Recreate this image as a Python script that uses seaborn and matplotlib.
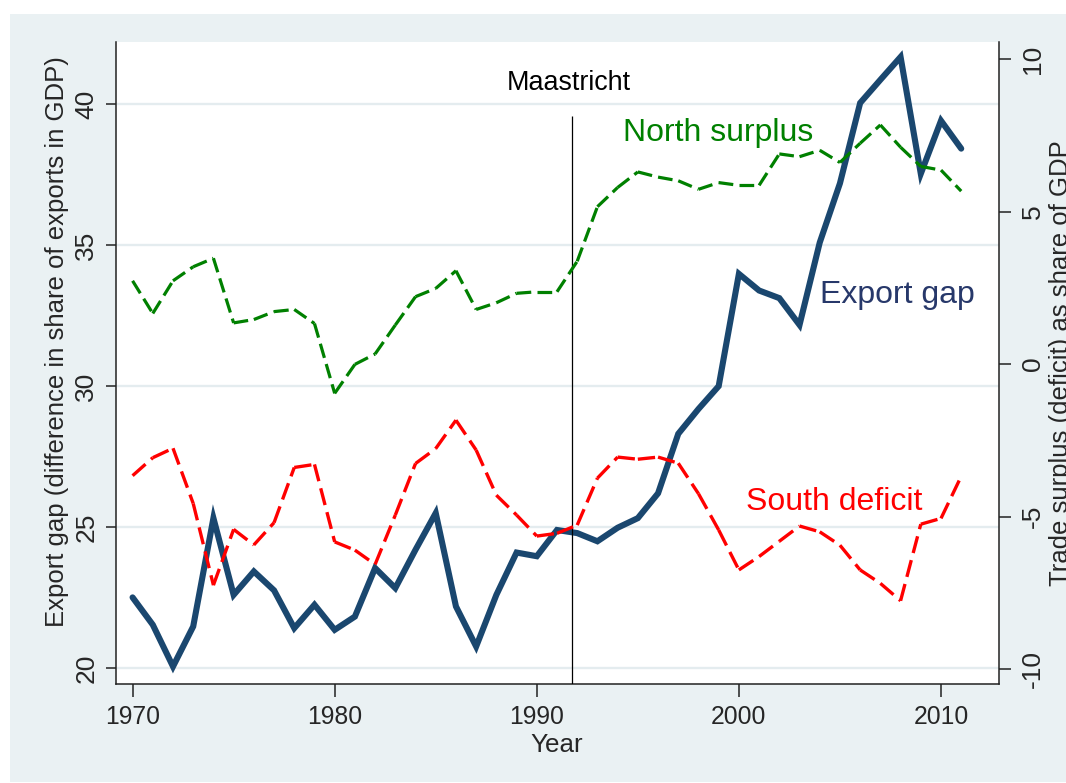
import numpy as np
import pandas as pd
import matplotlib
matplotlib.use("Agg")
import matplotlib.pyplot as plt
import matplotlib.patches as mpatches
import seaborn as sns

# ---------------- data ----------------
years = list(range(1970, 2012))
export_gap = [22.52, 21.55, 20.07, 21.49, 25.33, 22.61, 23.44, 22.77, 21.43, 22.26,
              21.37, 21.84, 23.56, 22.85, 24.21, 25.51, 22.20, 20.78, 22.61, 24.11,
              23.98, 24.91, 24.80, 24.51, 24.99, 25.33, 26.21, 28.32, 29.20, 30.01,
              33.99, 33.40, 33.13, 32.18, 35.10, 37.20, 40.05, 40.87, 41.68, 37.54,
              39.42, 38.43]
north_surplus = [2.73, 1.66, 2.73, 3.19, 3.47, 1.35, 1.46, 1.72, 1.79, 1.33,
                 -0.96, -0.01, 0.33, 1.28, 2.21, 2.48, 3.06, 1.79, 2.01, 2.32,
                 2.37, 2.37, 3.37, 5.16, 5.79, 6.30, 6.13, 6.01, 5.73, 5.95,
                 5.86, 5.86, 6.89, 6.80, 7.01, 6.61, 7.24, 7.84, 7.11, 6.48,
                 6.36, 5.67]
south_deficit = [-3.66, -3.07, -2.76, -4.57, -7.25, -5.42, -5.93, -5.20, -3.39, -3.29,
                 -5.83, -6.10, -6.57, -4.95, -3.26, -2.77, -1.84, -2.82, -4.30, -4.95,
                 -5.64, -5.55, -5.28, -3.74, -3.05, -3.12, -3.05, -3.25, -4.25, -5.44,
                 -6.75, -6.31, -5.81, -5.31, -5.50, -5.94, -6.75, -7.19, -7.76, -5.25,
                 -5.06, -3.68]

x_ticks = [1970, 1980, 1990, 2000, 2010]
left_ticks = [20, 25, 30, 35, 40]
right_ticks = [-10, -5, 0, 5, 10]
maastricht_year = 1991.75
maastricht_line_top = 39.57

xlabel = "Year"
ylabel_left = "Export gap (difference in share of exports in GDP)"
ylabel_right = "Trade surplus (deficit) as share of GDP"

df = pd.DataFrame({"year": years, "export_gap": export_gap,
                   "north": north_surplus, "south": south_deficit})

# ---------------- style ----------------
sns.set_style("white")
plt.rcParams["font.family"] = ["Liberation Sans", "DejaVu Sans"]

BG = "#EAF1F3"
NAVY = "#1A476F"
GREEN = "#008000"
RED = "#FF0000"
AXC = "#222222"

fig = plt.figure(figsize=(10.66, 7.83), dpi=100, facecolor="white")
W, H = 1066, 783
fig.patches.append(mpatches.Rectangle((10 / W, 1 / H), 1 - 10 / W, (782 - 14) / H,
                                      transform=fig.transFigure, facecolor=BG,
                                      edgecolor="none", zorder=-5))

ax = fig.add_axes([115.6 / W, 1 - 684 / H, (998.6 - 115.6) / W, (684 - 42) / H])
ax.set_facecolor("white")
ax2 = ax.twinx()
ax2.patch.set_visible(False)

# main series
sns.lineplot(data=df, x="year", y="export_gap", ax=ax, color=NAVY, linewidth=4.4,
             legend=False, solid_joinstyle="miter", zorder=3)

# dashed series: dash pattern restarts on every segment (as in the original)
for i in range(len(df) - 1):
    seg = df.iloc[i:i + 2]
    sns.lineplot(data=seg, x="year", y="north", ax=ax2, color=GREEN, linewidth=2.3,
                 legend=False, zorder=3)
    ax2.lines[-1].set_dashes((4.6, 2.0))
    sns.lineplot(data=seg, x="year", y="south", ax=ax2, color=RED, linewidth=2.4,
                 legend=False, zorder=3)
    ax2.lines[-1].set_dashes((5.2, 2.2))

ax.set_xlim(1969.16, 2012.85)
ax.set_ylim(19.45, 42.21)
ax2.set_ylim(-10.49, 10.56)

# grid
ax.set_yticks(left_ticks)
ax.grid(axis="y", color="#E4ECEF", linewidth=1.7, zorder=0)
ax.grid(axis="x", visible=False)
ax.set_axisbelow(True)

# Maastricht line + text
ax.vlines(maastricht_year, 19.45, maastricht_line_top, color="black", linewidth=0.9, zorder=4)
ax.text(1991.6, 40.75, "Maastricht", ha="center", va="center", fontsize=19.4, color="black")

# series labels
ax2.text(1994.26, 7.31, "North surplus", ha="left", va="baseline", fontsize=23, color=GREEN)
ax2.text(2004.0, 2.0, "Export gap", ha="left", va="baseline", fontsize=23, color="#27386A")
ax2.text(2000.34, -4.79, "South deficit", ha="left", va="baseline", fontsize=23, color=RED)

# axes styling
for a in (ax, ax2):
    a.spines["top"].set_visible(False)
ax.spines["right"].set_visible(False)
ax2.spines["left"].set_visible(False)
ax2.spines["bottom"].set_visible(False)
for s in ("left", "bottom"):
    ax.spines[s].set_color(AXC)
    ax.spines[s].set_linewidth(1.1)
ax2.spines["right"].set_color(AXC)
ax2.spines["right"].set_linewidth(1.1)

ax.set_xticks(x_ticks)
ax.set_xticklabels([str(t) for t in x_ticks])
ax.tick_params(axis="x", length=9.4, width=1.1, color=AXC, pad=6, labelsize=17.8,
               bottom=True)
ax.tick_params(axis="y", length=7.5, width=1.1, color=AXC, pad=5, labelsize=19,
               left=True)
ax.set_yticklabels([str(t) for t in left_ticks], rotation=90, va="center")

ax2.set_yticks(right_ticks)
ax2.set_yticklabels([str(t) for t in right_ticks], rotation=90, va="center")
ax2.tick_params(axis="y", length=8.6, width=1.1, color=AXC, pad=7.5, labelsize=19,
                right=True)

ax.set_xlabel(xlabel, fontsize=18.7)
ax.xaxis.set_label_coords(0.5, -0.0765)
ax.set_ylabel(ylabel_left, fontsize=18.5)
ax.yaxis.set_label_coords(-0.0528, 0.533)
ax2.set_ylabel(ylabel_right, fontsize=18.5)
ax2.yaxis.set_label_coords(1.0575, 0.5)

fig.savefig("out.png", dpi=100, facecolor="white")
